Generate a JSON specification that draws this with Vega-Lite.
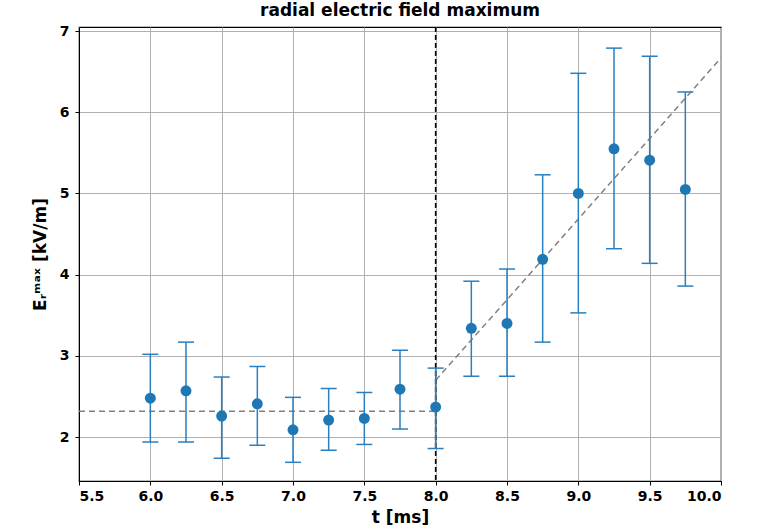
{
  "$schema": "https://vega.github.io/schema/vega-lite/v6.json",
  "autosize": {"type": "none"},
  "width": 642,
  "height": 454,
  "padding": {"left": 79, "top": 27, "right": 45, "bottom": 46},
  "background": "white",
  "title": {"text": "radial electric field maximum", "font": "DejaVu Sans", "fontSize": 17, "fontWeight": "bold", "color": "black", "offset": 4},
  "config": {
    "view": {"stroke": "black", "strokeWidth": 1.2},
    "axis": {
      "labelFont": "DejaVu Sans", "labelFontSize": 14, "labelFontWeight": "bold", "labelColor": "black",
      "titleFont": "DejaVu Sans", "titleFontSize": 17, "titleFontWeight": "bold", "titleColor": "black",
      "gridColor": "#b0b0b0", "gridWidth": 1, "domainColor": "black", "tickColor": "black", "tickSize": 4
    }
  },
  "datasets": {
    "pts": [
      {"t": 6.0, "E": 2.48, "lo": 1.94, "hi": 3.02},
      {"t": 6.25, "E": 2.57, "lo": 1.94, "hi": 3.17},
      {"t": 6.5, "E": 2.26, "lo": 1.74, "hi": 2.74},
      {"t": 6.75, "E": 2.41, "lo": 1.90, "hi": 2.87},
      {"t": 7.0, "E": 2.09, "lo": 1.69, "hi": 2.49},
      {"t": 7.25, "E": 2.21, "lo": 1.84, "hi": 2.60},
      {"t": 7.5, "E": 2.23, "lo": 1.91, "hi": 2.55},
      {"t": 7.75, "E": 2.59, "lo": 2.10, "hi": 3.07},
      {"t": 8.0, "E": 2.37, "lo": 1.86, "hi": 2.85},
      {"t": 8.25, "E": 3.34, "lo": 2.75, "hi": 3.92},
      {"t": 8.5, "E": 3.40, "lo": 2.75, "hi": 4.07},
      {"t": 8.75, "E": 4.19, "lo": 3.17, "hi": 5.23},
      {"t": 9.0, "E": 5.00, "lo": 3.53, "hi": 6.48},
      {"t": 9.25, "E": 5.55, "lo": 4.32, "hi": 6.79},
      {"t": 9.5, "E": 5.41, "lo": 4.14, "hi": 6.69},
      {"t": 9.75, "E": 5.05, "lo": 3.86, "hi": 6.25}
    ],
    "flat": [{"t": 5.5, "E": 2.32}, {"t": 8.0, "E": 2.32}],
    "slope": [{"t": 8.0, "E": 2.70}, {"t": 10.0, "E": 6.67}],
    "vline": [{"t": 8.0}]
  },
  "layer": [
    {
      "data": {"name": "flat"},
      "mark": {"type": "line", "color": "#808080", "strokeWidth": 1.5, "strokeDash": [6, 4], "clip": true},
      "encoding": {
        "x": {"field": "t", "type": "quantitative", "scale": {"domain": [5.5, 10.0], "nice": false, "zero": false},
          "axis": {"title": "t [ms]", "values": [5.5, 6.0, 6.5, 7.0, 7.5, 8.0, 8.5, 9.0, 9.5, 10.0], "format": ".1f", "titlePadding": 6, "labelPadding": 4}},
        "y": {"field": "E", "type": "quantitative", "scale": {"domain": [1.46, 7.05], "nice": false, "zero": false},
          "axis": {"title": "Eᵣᵐᵃˣ [kV/m]", "values": [2, 3, 4, 5, 6, 7], "format": "d", "titlePadding": 10, "labelPadding": 6}}
      }
    },
    {
      "data": {"name": "slope"},
      "mark": {"type": "line", "color": "#808080", "strokeWidth": 1.5, "strokeDash": [6, 4], "clip": true},
      "encoding": {
        "x": {"field": "t", "type": "quantitative"},
        "y": {"field": "E", "type": "quantitative"}
      }
    },
    {
      "data": {"name": "vline"},
      "mark": {"type": "rule", "color": "black", "strokeWidth": 1.6, "strokeDash": [5, 3]},
      "encoding": {"x": {"field": "t", "type": "quantitative"}}
    },
    {
      "data": {"name": "pts"},
      "mark": {"type": "rule", "color": "#2a7fc0", "strokeWidth": 1.5},
      "encoding": {
        "x": {"field": "t", "type": "quantitative"},
        "y": {"field": "lo", "type": "quantitative"},
        "y2": {"field": "hi"}
      }
    },
    {
      "data": {"name": "pts"},
      "mark": {"type": "tick", "orient": "horizontal", "color": "#2a7fc0", "size": 16, "thickness": 1.5, "opacity": 1},
      "encoding": {
        "x": {"field": "t", "type": "quantitative"},
        "y": {"field": "lo", "type": "quantitative"}
      }
    },
    {
      "data": {"name": "pts"},
      "mark": {"type": "tick", "orient": "horizontal", "color": "#2a7fc0", "size": 16, "thickness": 1.5, "opacity": 1},
      "encoding": {
        "x": {"field": "t", "type": "quantitative"},
        "y": {"field": "hi", "type": "quantitative"}
      }
    },
    {
      "data": {"name": "pts"},
      "mark": {"type": "circle", "color": "#1f77b4", "size": 120, "opacity": 1},
      "encoding": {
        "x": {"field": "t", "type": "quantitative"},
        "y": {"field": "E", "type": "quantitative"}
      }
    }
  ]
}
